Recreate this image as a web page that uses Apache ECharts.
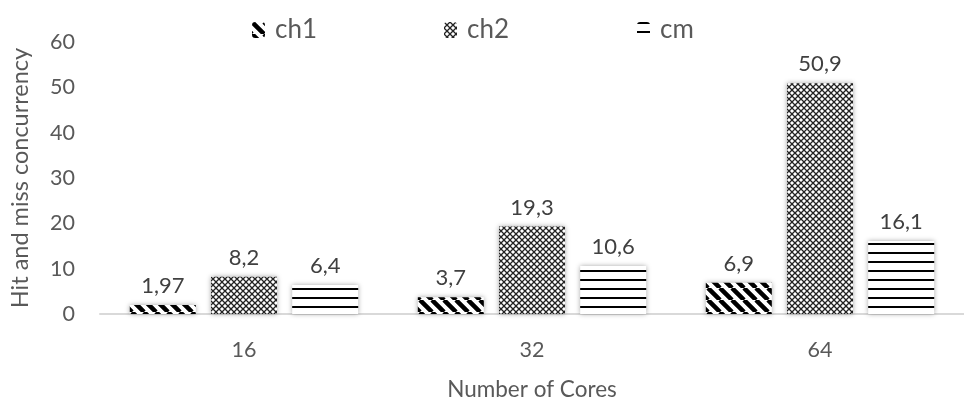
<!DOCTYPE html>
<html>
<head>
<meta charset="utf-8">
<script src="https://cdn.jsdelivr.net/npm/echarts@6/dist/echarts.min.js"></script>
<style>
  html, body { margin: 0; padding: 0; background: #fff; }
  #chart { width: 964px; height: 406px; }
</style>
</head>
<body>
<div id="chart"></div>
<script>
// data
const cores = ['16', '32', '64'];
const ch1 = [1.97, 3.7, 6.9];
const ch2 = [8.2, 19.3, 50.9];
const cm = [6.4, 10.6, 16.1];
const yTicks = [0, 10, 20, 30, 40, 50, 60];

// hatch fills, drawn on small canvases
function makeTile(size, draw) {
    const c = document.createElement('canvas');
    c.width = size;
    c.height = size;
    const ctx = c.getContext('2d');
    ctx.fillStyle = '#fff';
    ctx.fillRect(0, 0, size, size);
    draw(ctx, size);
    return { image: c, repeat: 'repeat' };
}

// diagonal "\" stripes
const diagFill = makeTile(12, (ctx, s) => {
    ctx.strokeStyle = '#000';
    ctx.lineWidth = 4.5;
    ctx.beginPath();
    for (let k = -1; k <= 1; k++) {
        ctx.moveTo(k * s, 0);
        ctx.lineTo(k * s + s, s);
    }
    ctx.stroke();
});

// dotted crosshatch
const crossFill = makeTile(6, (ctx, s) => {
    ctx.strokeStyle = '#222';
    ctx.lineWidth = 1.3;
    ctx.beginPath();
    ctx.moveTo(0, 0); ctx.lineTo(s, s);
    ctx.moveTo(s, 0); ctx.lineTo(0, s);
    ctx.stroke();
});

// horizontal lines
const horizFill = makeTile(9, (ctx, s) => {
    ctx.fillStyle = '#000';
    ctx.fillRect(0, 0, s, 2);
});

const chart = echarts.init(document.getElementById('chart'));

const labelFmt = p => String(p.value).replace('.', ',');
const font = 'Lato';

function barSeries(name, data, fill) {
    return {
        name: name,
        type: 'bar',
        data: data,
        barWidth: 66,
        barGap: '23%',
        itemStyle: {
            color: fill,
            shadowBlur: 5,
            shadowColor: 'rgba(0,0,0,0.35)'
        },
        label: {
            show: true,
            position: 'top',
            distance: 8,
            formatter: labelFmt,
            color: '#404040',
            fontSize: 22,
            fontFamily: font
        }
    };
}

function legendAt(name, left) {
    return {
        data: [name],
        left: left,
        top: 12,
        itemWidth: 13,
        itemHeight: 16,
        textStyle: { fontSize: 26, color: '#595959', fontFamily: font, padding: [0, 0, 0, 5] }
    };
}

const option = {
    animation: false,
    backgroundColor: '#fff',
    legend: [
        legendAt('ch1', 247),
        legendAt('ch2', 439),
        legendAt('cm', 632)
    ],
    grid: {
        left: 95,
        top: 42,
        width: 882,
        bottom: 89
    },
    xAxis: {
        type: 'category',
        data: cores,
        name: 'Number of Cores',
        nameLocation: 'middle',
        nameGap: 64,
        nameTextStyle: { fontSize: 22.5, color: '#595959', fontFamily: font, verticalAlign: 'top' },
        axisLine: { lineStyle: { color: '#d9d9d9', width: 2 } },
        axisTick: { show: false },
        axisLabel: { margin: 25, fontSize: 21.5, color: '#595959', fontFamily: font }
    },
    yAxis: {
        type: 'value',
        min: yTicks[0],
        max: yTicks[yTicks.length - 1],
        interval: 10,
        name: 'Hit and miss concurrency',
        nameLocation: 'middle',
        nameGap: 68,
        nameTextStyle: { fontSize: 23.5, color: '#595959', fontFamily: font },
        axisLine: { show: false },
        axisTick: { show: false },
        splitLine: { show: false },
        axisLabel: { margin: 25, fontSize: 21.5, color: '#595959', fontFamily: font }
    },
    series: [
        barSeries('ch1', ch1, diagFill),
        barSeries('ch2', ch2, crossFill),
        barSeries('cm', cm, horizFill)
    ]
};

chart.setOption(option);
</script>
</body>
</html>
